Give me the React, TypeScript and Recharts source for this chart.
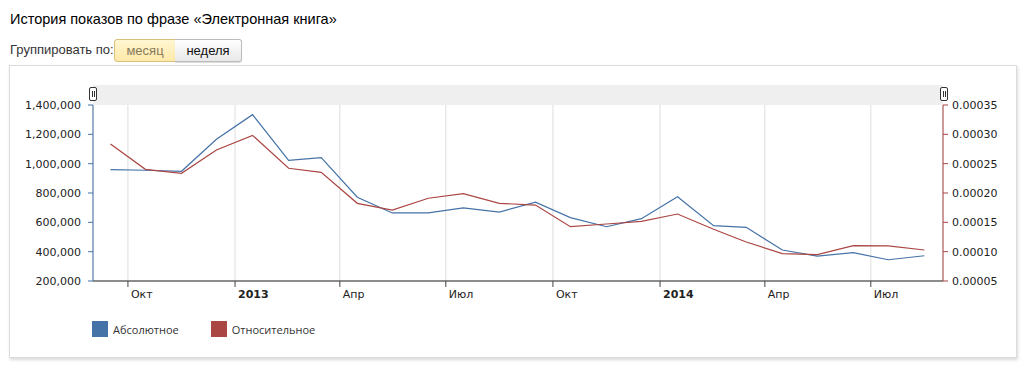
import React from 'react';
import { LineChart, Line, XAxis, YAxis, CartesianGrid, Legend } from 'recharts';

// monthly points (placed mid-month), Sep 2012 .. Aug 2014
const months = [
  '2012-09', '2012-10', '2012-11', '2012-12',
  '2013-01', '2013-02', '2013-03', '2013-04', '2013-05', '2013-06',
  '2013-07', '2013-08', '2013-09', '2013-10', '2013-11', '2013-12',
  '2014-01', '2014-02', '2014-03', '2014-04', '2014-05', '2014-06',
  '2014-07', '2014-08',
];

const absolute = [
  960000, 955000, 948000, 1166000,
  1334000, 1023000, 1041000, 771000, 664000, 664000,
  698000, 670000, 737000, 632000, 570000, 625000,
  775000, 577000, 566000, 411000, 370000, 393000,
  345000, 372000,
];

const relative = [
  0.0002835, 0.0002404, 0.0002336, 0.0002733,
  0.0002983, 0.0002421, 0.0002353, 0.0001824, 0.000171, 0.000191,
  0.0001988, 0.0001824, 0.0001795, 0.0001426, 0.0001472, 0.0001517,
  0.0001642, 0.0001381, 0.0001165, 0.0000966, 0.0000949, 0.0001102,
  0.00011, 0.0001028,
];

const tickMonths = ['2012-10', '2013-01', '2013-04', '2013-07', '2013-10', '2014-01', '2014-04', '2014-07'];
const tickLabels = ['Окт', '2013', 'Апр', 'Июл', 'Окт', '2014', 'Апр', 'Июл'];
const domainMonths = ['2012-09', '2014-09'];

const leftTicks = [200000, 400000, 600000, 800000, 1000000, 1200000, 1400000];
const rightTicks = [0.00005, 0.0001, 0.00015, 0.0002, 0.00025, 0.0003, 0.00035];

const BLUE = '#4572A7';
const RED = '#AA4643';
const AXIS_FONT = '"DejaVu Sans", Verdana, sans-serif';

const toTime = (ym: string, day: number) => {
  const [y, m] = ym.split('-').map(Number);
  return Date.UTC(y, m - 1, day);
};

const data = months.map((m, i) => ({
  t: toTime(m, 16),
  abs: absolute[i],
  rel: relative[i],
}));

const tickTimes = tickMonths.map((m) => toTime(m, 1));
const domain = [toTime(domainMonths[0], 1), toTime(domainMonths[1], 1)];

const XTick = (props: any) => {
  const { x, y, payload } = props;
  const label = tickLabels[tickTimes.indexOf(payload.value)] ?? '';
  const isYear = /^\d{4}$/.test(label);
  return (
    <text
      x={x + 3}
      y={y}
      dy="0.71em"
      textAnchor="start"
      fontSize={11}
      fontFamily={AXIS_FONT}
      fontWeight={isYear ? 'bold' : 'normal'}
      fill="#222"
    >
      {label}
    </text>
  );
};

const LegendContent = () => {
  const items = [
    { name: 'Абсолютное', color: BLUE },
    { name: 'Относительное', color: RED },
  ];
  return (
    <div style={{ display: 'flex', fontFamily: '"Open Sans", sans-serif', fontSize: 11, color: '#333' }}>
      {items.map((it) => (
        <div key={it.name} style={{ display: 'flex', alignItems: 'center', marginRight: 32 }}>
          <span style={{ width: 16, height: 16, background: it.color, marginRight: 5, display: 'inline-block' }} />
          <span>{it.name}</span>
        </div>
      ))}
    </div>
  );
};

const Handle = ({ left }: { left: number }) => (
  <div
    style={{
      position: 'absolute',
      left,
      top: 87,
      width: 6,
      height: 12,
      background: '#fff',
      border: '1px solid #333',
      borderRadius: 2,
      display: 'flex',
      justifyContent: 'center',
      alignItems: 'center',
      gap: 1,
    }}
  >
    <span style={{ width: 1, height: 6, background: '#333' }} />
    <span style={{ width: 1, height: 6, background: '#333' }} />
  </div>
);

export default function App() {
  return (
    <div style={{ position: 'absolute', left: 0, top: 0, width: 1024, height: 373, background: '#fff', overflow: 'hidden' }}>
      <div
        style={{
          position: 'absolute',
          left: 10,
          top: 11,
          fontFamily: 'Arial, "Liberation Sans", sans-serif',
          fontSize: 14.5,
          color: '#000',
          whiteSpace: 'nowrap',
        }}
      >
        История показов по фразе «Электронная книга»
      </div>
      <div
        style={{
          position: 'absolute',
          left: 10,
          top: 42,
          fontFamily: 'Arial, "Liberation Sans", sans-serif',
          fontSize: 13,
          color: '#333',
          whiteSpace: 'nowrap',
        }}
      >
        Группировать по:
      </div>
      <div
        style={{
          position: 'absolute',
          left: 114,
          top: 39,
          width: 60,
          height: 21,
          border: '1px solid #d9c07c',
          borderRadius: '3px 0 0 3px',
          background: 'linear-gradient(#fff6d2, #fde9a8)',
          fontFamily: 'Arial, "Liberation Sans", sans-serif',
          fontSize: 13,
          color: '#8a7a5a',
          textAlign: 'center',
          lineHeight: '21px',
        }}
      >
        месяц
      </div>
      <div
        style={{
          position: 'absolute',
          left: 175,
          top: 39,
          width: 66,
          height: 21,
          border: '1px solid #bbb',
          borderLeft: 'none',
          borderRadius: '0 3px 3px 0',
          background: 'linear-gradient(#fff, #e8e8e8)',
          boxShadow: '0 1px 1px rgba(0,0,0,0.15)',
          fontFamily: 'Arial, "Liberation Sans", sans-serif',
          fontSize: 13,
          color: '#111',
          textAlign: 'center',
          lineHeight: '21px',
        }}
      >
        неделя
      </div>

      {/* chart panel */}
      <div
        style={{
          position: 'absolute',
          left: 9,
          top: 65,
          width: 1006,
          height: 291,
          border: '1px solid #dcdcdc',
          boxShadow: '1px 2px 3px rgba(0,0,0,0.15)',
          background: '#fff',
        }}
      />
      <div style={{ position: 'absolute', left: 93, top: 85, width: 850, height: 20, background: '#efefef' }} />

      <div style={{ position: 'absolute', left: 0, top: 0 }}>
        <LineChart width={1024} height={373} data={data} margin={{ top: 105, right: 11, bottom: 62, left: 8 }}>
          <CartesianGrid horizontal={false} vertical stroke="#dedede" />
          <XAxis
            dataKey="t"
            type="number"
            domain={domain}
            ticks={tickTimes}
            tick={<XTick />}
            tickSize={6}
            tickMargin={3}
            height={30}
            axisLine={{ stroke: '#666', strokeWidth: 1.5 }}
            tickLine={{ stroke: '#444' }}
            interval={0}
          />
          <YAxis
            yAxisId="left"
            orientation="left"
            width={85}
            domain={[leftTicks[0], leftTicks[leftTicks.length - 1]]}
            ticks={leftTicks}
            interval={0}
            tickFormatter={(v: number) => v.toLocaleString('en-US')}
            tick={{ fontSize: 11, fontFamily: AXIS_FONT, fill: '#222' }}
            tickSize={5}
            tickMargin={7}
            axisLine={{ stroke: BLUE }}
            tickLine={{ stroke: BLUE }}
          />
          <YAxis
            yAxisId="right"
            orientation="right"
            width={70}
            domain={[rightTicks[0], rightTicks[rightTicks.length - 1]]}
            ticks={rightTicks}
            interval={0}
            tickFormatter={(v: number) => v.toFixed(5)}
            tick={{ fontSize: 11, fontFamily: AXIS_FONT, fill: '#222' }}
            tickSize={5}
            tickMargin={4}
            axisLine={{ stroke: RED }}
            tickLine={{ stroke: RED }}
          />
          <Legend
            verticalAlign="middle"
            content={<LegendContent />}
            wrapperStyle={{ left: 92, top: 321, width: 400 }}
          />
          <Line
            yAxisId="left"
            type="linear"
            dataKey="abs"
            name="Абсолютное"
            stroke={BLUE}
            strokeWidth={1.2}
            dot={false}
            activeDot={false}
            isAnimationActive={false}
          />
          <Line
            yAxisId="right"
            type="linear"
            dataKey="rel"
            name="Относительное"
            stroke={RED}
            strokeWidth={1.2}
            dot={false}
            activeDot={false}
            isAnimationActive={false}
          />
        </LineChart>
      </div>
      <Handle left={89} />
      <Handle left={940} />
    </div>
  );
}
